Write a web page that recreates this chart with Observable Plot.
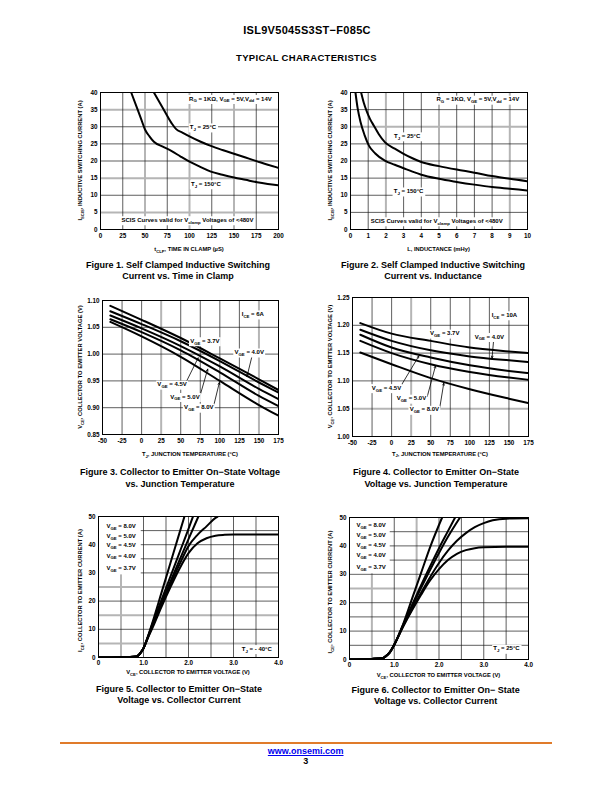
<!DOCTYPE html>
<html><head><meta charset="utf-8">
<script src="https://cdn.jsdelivr.net/npm/d3@7"></script>
<script src="https://cdn.jsdelivr.net/npm/@observablehq/plot@0.6"></script>
<style>
body{margin:0;background:#fff;}
#page{position:relative;width:612px;height:792px;overflow:hidden;background:#fff;font-family:"Liberation Sans",Arial,Helvetica,sans-serif;font-weight:bold;color:#000;}
.t{position:absolute;white-space:nowrap;transform:translateX(-50%);}
.chart{position:absolute;}
</style></head><body><div id="page"></div>
<script>
// ---------- DATA ----------
// Figure 1: I_SCIS vs time in clamp
const f1_t25_time = [60, 70, 80, 85, 92, 100, 112, 124, 137, 150, 163, 176, 188, 200];
const f1_t25_isc  = [40, 35.5, 31, 29.3, 28.3, 27.2, 25.7, 24.4, 23.2, 22.1, 21.0, 19.9, 18.9, 18.0];
const f1_t150_time = [34.5, 41, 46, 50, 55, 60, 70, 80, 90, 100, 112, 124, 137, 150, 163, 176, 188, 200];
const f1_t150_isc  = [40, 35.5, 32, 29.2, 27.2, 25.6, 24.2, 22.9, 21.3, 19.8, 18.3, 16.9, 16.0, 15.2, 14.5, 13.8, 13.3, 12.9];
// Figure 2: I_SCIS vs inductance
const f2_t25_L   = [0.6, 0.75, 0.94, 1.1, 1.32, 1.6, 1.94, 2.5, 3.0, 3.5, 4.0, 5.0, 6.0, 7.0, 8.0, 9.0, 10];
const f2_t25_isc = [40, 37, 34.2, 32.3, 30.3, 27.8, 25.5, 23.6, 22.1, 20.8, 19.7, 18.5, 17.5, 16.6, 15.6, 14.8, 14.1];
const f2_t150_L   = [0.28, 0.4, 0.57, 0.8, 1.04, 1.4, 1.94, 2.5, 3.0, 3.5, 4.0, 5.0, 6.0, 7.0, 8.0, 9.0, 10];
const f2_t150_isc = [40, 35.5, 31.3, 27.5, 24.5, 22.2, 20.1, 18.9, 17.9, 16.9, 16.0, 14.8, 13.9, 13.1, 12.4, 11.9, 11.4];
// Figure 3: VCE vs Tj at ICE = 6A
const f3_temp = [-40, 0, 50, 100, 150, 175];
const f3_vge37 = [1.090, 1.064, 1.030, 0.992, 0.953, 0.933];
const f3_vge40 = [1.080, 1.056, 1.024, 0.987, 0.947, 0.928];
const f3_vge45 = [1.072, 1.048, 1.015, 0.977, 0.935, 0.916];
const f3_vge50 = [1.065, 1.041, 1.007, 0.966, 0.922, 0.903];
const f3_vge80 = [1.060, 1.033, 0.995, 0.950, 0.905, 0.885];
// Figure 4: VCE vs Tj at ICE = 10A
const f4_temp = [-40, 0, 50, 100, 150, 175];
const f4_vge37 = [1.204, 1.185, 1.172, 1.160, 1.153, 1.150];
const f4_vge40 = [1.192, 1.172, 1.155, 1.144, 1.137, 1.134];
const f4_vge45 = [1.183, 1.160, 1.142, 1.128, 1.118, 1.114];
const f4_vge50 = [1.172, 1.150, 1.130, 1.116, 1.106, 1.102];
const f4_vge80 = [1.151, 1.130, 1.105, 1.085, 1.068, 1.060];
// Figure 5: ICE vs VCE at Tj = -40C
const f5_vge80_v = [0, 0.5, 0.85, 0.9, 0.95, 1.0, 1.1, 1.2, 1.4, 1.6, 1.8, 1.91];
const f5_vge80_i = [0, 0.1, 0.4, 1.0, 2.0, 3.3, 7.6, 12.5, 23, 33.6, 44.2, 50];
const f5_vge50_v = [0, 0.5, 0.85, 0.9, 0.95, 1.0, 1.1, 1.2, 1.4, 1.6, 1.8, 2.0, 2.1];
const f5_vge50_i = [0, 0.1, 0.4, 1.0, 2.0, 3.3, 7.4, 12, 20.4, 28.8, 37.2, 45.6, 50];
const f5_vge45_v = [0, 0.5, 0.85, 0.9, 0.95, 1.0, 1.1, 1.2, 1.4, 1.6, 1.8, 2.0, 2.22];
const f5_vge45_i = [0, 0.1, 0.4, 1.0, 2.0, 3.3, 7.3, 11.5, 19.5, 27, 34.5, 42, 50];
const f5_vge40_v = [0, 0.5, 0.85, 0.9, 0.95, 1.0, 1.1, 1.2, 1.4, 1.6, 1.8, 2.0, 2.2, 2.4, 2.6, 2.65];
const f5_vge40_i = [0, 0.1, 0.4, 1.0, 2.0, 3.3, 7.2, 11, 18.8, 26, 33, 39.5, 43.5, 46.5, 49.5, 50];
const f5_vge37_v = [0, 0.5, 0.85, 0.9, 0.95, 1.0, 1.1, 1.2, 1.4, 1.6, 1.8, 2.0, 2.2, 2.4, 2.6, 2.8, 3.0, 4.0];
const f5_vge37_i = [0, 0.1, 0.4, 1.0, 2.0, 3.3, 7.0, 10.5, 18, 25, 31.5, 37, 40.5, 42.3, 43.2, 43.5, 43.6, 43.6];
// Figure 6: ICE vs VCE at Tj = 25C
const f6_vge80_v = [0, 0.5, 0.75, 0.8, 0.9, 1.0, 1.2, 1.4, 1.6, 1.8, 2.07];
const f6_vge80_i = [0, 0.2, 0.5, 1.0, 2.5, 5.2, 12.5, 21.5, 30.5, 39.5, 50];
const f6_vge50_v = [0, 0.5, 0.75, 0.8, 0.9, 1.0, 1.2, 1.4, 1.6, 1.8, 2.0, 2.2, 2.36];
const f6_vge50_i = [0, 0.2, 0.5, 1.0, 2.5, 5.2, 12.3, 19.3, 26.2, 32.8, 39.2, 45.2, 50];
const f6_vge45_v = [0, 0.5, 0.75, 0.8, 0.9, 1.0, 1.2, 1.4, 1.6, 1.8, 2.0, 2.2, 2.47];
const f6_vge45_i = [0, 0.2, 0.5, 1.0, 2.5, 5.2, 12.1, 18.7, 25.2, 31.5, 37.5, 43.2, 50];
const f6_vge40_v = [0, 0.5, 0.75, 0.8, 0.9, 1.0, 1.2, 1.4, 1.6, 1.8, 2.0, 2.2, 2.4, 2.6, 2.8, 3.0, 3.2, 3.5, 4.0];
const f6_vge40_i = [0, 0.2, 0.5, 1.0, 2.5, 5.2, 11.8, 17.8, 23.5, 29, 34, 38.3, 41.8, 44.5, 46.6, 48, 49, 49.6, 49.7];
const f6_vge37_v = [0, 0.5, 0.75, 0.8, 0.9, 1.0, 1.2, 1.4, 1.6, 1.8, 2.0, 2.2, 2.4, 2.6, 2.8, 3.0, 3.5, 4.0];
const f6_vge37_i = [0, 0.2, 0.5, 1.0, 2.5, 5.2, 11.6, 17.4, 22.8, 27.8, 31.8, 35, 37.2, 38.5, 39.2, 39.5, 39.7, 39.7];

// Tick labels
const f12_yTicks = [0, 5, 10, 15, 20, 25, 30, 35, 40];
const f1_xTicks = [0, 25, 50, 75, 100, 125, 150, 175, 200];
const f2_xTicks = [0, 1, 2, 3, 4, 5, 6, 7, 8, 9, 10];
const f34_xTicks = [-50, -25, 0, 25, 50, 75, 100, 125, 150, 175];
const f3_yTicks = [0.85, 0.90, 0.95, 1.00, 1.05, 1.10];
const f4_yTicks = [1.00, 1.05, 1.10, 1.15, 1.20, 1.25];
const f56_xTicks = [0, 1, 2, 3, 4];
const f56_yTicks = [0, 10, 20, 30, 40, 50];
const vgeLabels = ["V_{GE} = 8.0V", "V_{GE} = 5.0V", "V_{GE} = 4.5V", "V_{GE} = 4.0V", "V_{GE} = 3.7V"];

// ---------- HELPERS ----------
const FONT = '"Liberation Sans", Arial, Helvetica, sans-serif';
const page = document.getElementById("page");

function series(list) {
  const out = [];
  for (const [name, xs, ys] of list) xs.forEach((x, i) => out.push({s: name, x, y: ys[i]}));
  return out;
}

function richText(svg, x, y, str, o = {}) {
  const size = o.size || 6;
  const g = d3.select(svg).append("g")
    .attr("transform", `translate(${x},${y})` + (o.rotate ? ` rotate(${o.rotate})` : ""));
  const t = g.append("text")
    .attr("text-anchor", o.anchor || "middle")
    .attr("font-size", size).attr("font-weight", "bold")
    .attr("font-family", FONT).attr("fill", "#000")
    .attr("dy", "0.35em");
  const parts = str.split(/_\{([^}]*)\}/);
  let sub = false;
  parts.forEach((p, i) => {
    const isSub = i % 2 === 1;
    if (!p) return;
    const ts = t.append("tspan").text(p);
    if (isSub) { ts.attr("font-size", size * 0.72).attr("dy", sub ? 0 : size * 0.3); sub = true; }
    else { if (sub) ts.attr("dy", -size * 0.3); sub = false; }
  });
  if (o.bg) {
    const bb = t.node().getBBox();
    const p = o.pad == null ? 1.2 : o.pad;
    g.insert("rect", "text").attr("x", bb.x - p).attr("y", bb.y - p * 0.5)
      .attr("width", bb.width + 2 * p).attr("height", bb.height + p).attr("fill", "#fff");
  }
  return g;
}

function chart(c) {
  const mL = 60, mR = 14, mT = 8, mB = 30;
  const fw = c.frame.r - c.frame.l, fh = c.frame.b - c.frame.t;
  const width = fw + mL + mR, height = fh + mT + mB;
  const gridGrey = {stroke: "#b5b5b5", strokeWidth: 2};
  const gridDark = {stroke: "#1a1a1a", strokeWidth: 0.7};
  const marks = [
    Plot.ruleX(c.greyX, gridGrey),
    Plot.ruleY(c.greyY, gridGrey),
    Plot.ruleX(c.darkX, gridDark),
    Plot.ruleY(c.darkY, gridDark),
    ...(c.pre || []),
    Plot.line(c.data, {x: "x", y: "y", z: "s", stroke: "#000", strokeWidth: 2, curve: "monotone-x", clip: true}),
    ...(c.post || []),
    Plot.frame({stroke: "#000", strokeWidth: 1}),
    Plot.axisX({ticks: c.xTicks, tickSize: 0, tickPadding: c.xPad || 4, tickFormat: c.xFmt, label: null, fill: "#000"}),
    Plot.axisY({ticks: c.yTicks, tickSize: 0, tickPadding: 3, tickFormat: c.yFmt, label: null, fill: "#000"})
  ];
  const svg = Plot.plot({
    width, height, marginLeft: mL, marginRight: mR, marginTop: mT, marginBottom: mB,
    style: {fontFamily: FONT, fontSize: "6.3px", fontWeight: "bold", color: "#000", background: "transparent", overflow: "visible"},
    x: {domain: c.xDomain, label: null},
    y: {domain: c.yDomain, label: null},
    marks
  });
  const div = document.createElement("div");
  div.className = "chart";
  div.style.left = (c.frame.l - mL) + "px";
  div.style.top = (c.frame.t - mT) + "px";
  div.appendChild(svg);
  page.appendChild(div);
  const sx = v => mL + (v - c.xDomain[0]) / (c.xDomain[1] - c.xDomain[0]) * fw;
  const sy = v => mT + fh - (v - c.yDomain[0]) / (c.yDomain[1] - c.yDomain[0]) * fh;
  for (const a of (c.notes || [])) {
    richText(svg, sx(a.x), sy(a.y), a.text, {anchor: a.anchor || "middle", bg: a.bg !== false, size: a.size || 6});
  }
  richText(svg, mL + fw / 2, mT + fh + c.xLabelDy, c.xLabel, {size: 5.8});
  richText(svg, mL - c.yLabelDx, mT + fh / 2 + (c.yLabelShift || 0), c.yLabel, {size: 5.8, rotate: -90});
  return svg;
}

function pageText(txt, cx, cy, size, extra = {}) {
  const d = document.createElement("div");
  d.className = "t";
  d.textContent = txt;
  d.style.left = cx + "px";
  d.style.top = (cy - size / 2) + "px";
  d.style.fontSize = size + "px";
  d.style.lineHeight = size + "px";
  Object.assign(d.style, extra);
  page.appendChild(d);
  return d;
}

const intFmt = d => String(d);
const dec2 = d => d.toFixed(2);
const v1 = d => d === 0 ? "0" : d.toFixed(1);

// ---------- PAGE TEXT ----------
pageText("ISL9V5045S3ST\u2212F085C", 307, 30.3, 11, {letterSpacing: "0.3px"});
pageText("TYPICAL CHARACTERISTICS", 306.5, 57.7, 9.5, {letterSpacing: "0.3px"});

// ---------- CHARTS ----------
chart({
  frame: {l: 100, r: 278, t: 92, b: 229},
  xDomain: [0, 200], yDomain: [0, 40], xTicks: f1_xTicks, yTicks: f12_yTicks, xFmt: intFmt, yFmt: intFmt,
  greyX: [50, 100, 150], darkX: [25, 75, 125, 175], greyY: [5, 15, 35], darkY: [10, 20, 25, 30],
  data: series([["25", f1_t25_time, f1_t25_isc], ["150", f1_t150_time, f1_t150_isc]]),
  notes: [
    {x: 193, y: 38.1, text: "R_{G} = 1K\u03A9, V_{GE} = 5V,V_{dd} = 14V", anchor: "end"},
    {x: 115.7, y: 29.8, text: "T_{J} = 25\u00B0C"},
    {x: 119, y: 13.2, text: "T_{J} = 150\u00B0C"},
    {x: 98.3, y: 2.7, text: "SCIS Curves valid for V_{clamp} Voltages of <480V"}
  ],
  xLabel: "t_{CLP}, TIME IN CLAMP (\u00B5S)", xLabelDy: 20,
  yLabel: "I_{SCIS}, INDUCTIVE SWITCHING CURRENT (A)", yLabelDx: 20
});

chart({
  frame: {l: 350, r: 527, t: 92, b: 229},
  xDomain: [0, 10], yDomain: [0, 40], xTicks: f2_xTicks, yTicks: f12_yTicks, xFmt: intFmt, yFmt: intFmt,
  greyX: [2, 5, 9], darkX: [1, 3, 4, 6, 7, 8], greyY: [30], darkY: [5, 10, 15, 20, 25, 35],
  data: series([["25", f2_t25_L, f2_t25_isc], ["150", f2_t150_L, f2_t150_isc]]),
  notes: [
    {x: 9.56, y: 37.9, text: "R_{G} = 1K\u03A9, V_{GE} = 5V,V_{dd} = 14V", anchor: "end"},
    {x: 3.23, y: 27.2, text: "T_{J} = 25\u00B0C"},
    {x: 3.31, y: 11.1, text: "T_{J} = 150\u00B0C"},
    {x: 4.9, y: 2.4, text: "SCIS Curves valid for V_{clamp} Voltages of <480V"}
  ],
  xLabel: "L, INDUCTANCE (mHy)", xLabelDy: 20,
  yLabel: "I_{SCIS}, INDUCTIVE SWITCHING CURRENT (A)", yLabelDx: 20
});

const arrowStyle = {x1: "x1", y1: "y1", x2: "x2", y2: "y2", stroke: "#000", strokeWidth: 0.8, headLength: 4, headAngle: 45};
const f3_arrows = [
  {x1: 141.1, y1: 0.996, x2: 134.7, y2: 0.958},
  {x1: 57, y1: 0.948, x2: 72.3, y2: 0.993},
  {x1: 75.2, y1: 0.925, x2: 84.5, y2: 0.972},
  {x1: 92.2, y1: 0.904, x2: 99.4, y2: 0.947}
];
chart({
  frame: {l: 102, r: 278, t: 300, b: 434},
  xDomain: [-50, 175], yDomain: [0.85, 1.10], xTicks: f34_xTicks, yTicks: f3_yTicks, xFmt: intFmt, yFmt: dec2,
  greyX: [25, 150], darkX: [-25, 0, 50, 75, 100, 125], greyY: [], darkY: [0.90, 0.95, 1.00, 1.05],
  data: series([["3.7", f3_temp, f3_vge37], ["4.0", f3_temp, f3_vge40], ["4.5", f3_temp, f3_vge45], ["5.0", f3_temp, f3_vge50], ["8.0", f3_temp, f3_vge80]]),
  post: [Plot.arrow(f3_arrows, arrowStyle)],
  notes: [
    {x: 142.8, y: 1.074, text: "I_{CE} = 6A"},
    {x: 81.5, y: 1.024, text: "V_{GE} = 3.7V"},
    {x: 138.2, y: 1.003, text: "V_{GE} = 4.0V"},
    {x: 39.6, y: 0.943, text: "V_{GE} = 4.5V"},
    {x: 56, y: 0.920, text: "V_{GE} = 5.0V"},
    {x: 73.8, y: 0.900, text: "V_{GE} = 8.0V"}
  ],
  xLabel: "T_{J}, JUNCTION TEMPERATURE (\u00B0C)", xLabelDy: 20,
  yLabel: "V_{CE}, COLLECTOR TO EMITTER VOLTAGE (V)", yLabelDx: 22
});

const f4_arrows = [
  {x1: 130.4, y1: 1.173, x2: 128.4, y2: 1.141},
  {x1: 11.5, y1: 1.090, x2: 34.9, y2: 1.145},
  {x1: 45.6, y1: 1.072, x2: 56.1, y2: 1.127},
  {x1: 61.6, y1: 1.052, x2: 66.7, y2: 1.096}
];
chart({
  frame: {l: 352, r: 528, t: 297, b: 436},
  xDomain: [-50, 175], yDomain: [1.00, 1.25], xTicks: f34_xTicks, yTicks: f4_yTicks, xFmt: intFmt, yFmt: dec2,
  greyX: [25], darkX: [-25, 0, 50, 75, 100, 125, 150], greyY: [1.05], darkY: [1.10, 1.15, 1.20],
  data: series([["3.7", f4_temp, f4_vge37], ["4.0", f4_temp, f4_vge40], ["4.5", f4_temp, f4_vge45], ["5.0", f4_temp, f4_vge50], ["8.0", f4_temp, f4_vge80]]),
  post: [Plot.arrow(f4_arrows, arrowStyle)],
  notes: [
    {x: 144.9, y: 1.218, text: "I_{CE} = 10A"},
    {x: 68.5, y: 1.185, text: "V_{GE} = 3.7V"},
    {x: 125.6, y: 1.179, text: "V_{GE} = 4.0V"},
    {x: -5.9, y: 1.087, text: "V_{GE} = 4.5V"},
    {x: 26, y: 1.068, text: "V_{GE} = 5.0V"},
    {x: 42.5, y: 1.048, text: "V_{GE} = 8.0V"}
  ],
  xLabel: "T_{J}, JUNCTION TEMPERATURE (\u00B0C)", xLabelDy: 17.6,
  yLabel: "V_{CE}, COLLECTOR TO EMITTER VOLTAGE (V)", yLabelDx: 22
});

const f5_legendY = [46.5, 43, 39.6, 36, 31.7];
chart({
  frame: {l: 98, r: 278, t: 516, b: 657},
  xDomain: [0, 4], yDomain: [0, 50], xTicks: f56_xTicks, yTicks: f56_yTicks, xFmt: v1, yFmt: intFmt, xPad: 3,
  greyX: [0.5], darkX: [1, 1.5, 2, 2.5, 3, 3.5], greyY: [5, 15, 25], darkY: [10, 20, 30, 35, 40, 45],
  pre: [Plot.rect([{x1: 0, x2: 0.95, y1: 29.3, y2: 50}], {x1: "x1", x2: "x2", y1: "y1", y2: "y2", fill: "#fff"})],
  data: series([["8.0", f5_vge80_v, f5_vge80_i], ["5.0", f5_vge50_v, f5_vge50_i], ["4.5", f5_vge45_v, f5_vge45_i], ["4.0", f5_vge40_v, f5_vge40_i], ["3.7", f5_vge37_v, f5_vge37_i]]),
  notes: [
    ...vgeLabels.map((t, i) => ({x: 0.187, y: f5_legendY[i], text: t, anchor: "start", bg: false})),
    {x: 3.53, y: 2.98, text: "T_{J} = - 40\u00B0C"}
  ],
  xLabel: "V_{CE}, COLLECTOR TO EMITTER VOLTAGE (V)", xLabelDy: 15,
  yLabel: "I_{CE}, COLLECTOR TO EMITTER CURRENT (A)", yLabelDx: 18, yLabelShift: 4
});

const f6_legendY = [47.1, 43.6, 40.1, 36.6, 32.3];
chart({
  frame: {l: 349, r: 528, t: 517, b: 659},
  xDomain: [0, 4], yDomain: [0, 50], xTicks: f56_xTicks, yTicks: f56_yTicks, xFmt: v1, yFmt: intFmt, xPad: 3,
  greyX: [0.5, 1.5], darkX: [1, 2, 2.5, 3, 3.5], greyY: [25], darkY: [5, 10, 15, 20, 30, 35, 40, 45],
  pre: [Plot.rect([{x1: 0, x2: 0.91, y1: 30.2, y2: 50}], {x1: "x1", x2: "x2", y1: "y1", y2: "y2", fill: "#fff"})],
  data: series([["8.0", f6_vge80_v, f6_vge80_i], ["5.0", f6_vge50_v, f6_vge50_i], ["4.5", f6_vge45_v, f6_vge45_i], ["4.0", f6_vge40_v, f6_vge40_i], ["3.7", f6_vge37_v, f6_vge37_i]]),
  notes: [
    ...vgeLabels.map((t, i) => ({x: 0.165, y: f6_legendY[i], text: t, anchor: "start", bg: false})),
    {x: 3.52, y: 3.76, text: "T_{J} = 25\u00B0C"}
  ],
  xLabel: "V_{CE}, COLLECTOR TO EMITTER VOLTAGE (V)", xLabelDy: 16,
  yLabel: "I_{CE}, COLLECTOR TO EMITTER CURRENT (A)", yLabelDx: 19, yLabelShift: 4
});

// ---------- CAPTIONS ----------
pageText("Figure 1. Self Clamped Inductive Switching", 178, 265, 9);
pageText("Current vs. Time in Clamp", 178, 276, 9);
pageText("Figure 2. Self Clamped Inductive Switching", 433, 265, 9);
pageText("Current vs. Inductance", 433, 276, 9);
pageText("Figure 3. Collector to Emitter On\u2212State Voltage", 180, 472.3, 9);
pageText("vs. Junction Temperature", 180, 484, 9);
pageText("Figure 4. Collector to Emitter On\u2212State", 436, 472.3, 9);
pageText("Voltage vs. Junction Temperature", 436, 484, 9);
pageText("Figure 5. Collector to Emitter On\u2212State", 179, 689, 9);
pageText("Voltage vs. Collector Current", 179, 700, 9);
pageText("Figure 6. Collector to Emitter On\u2212 State", 435.6, 690, 9);
pageText("Voltage vs. Collector Current", 435.6, 701, 9);

// ---------- FOOTER ----------
const rule = document.createElement("div");
Object.assign(rule.style, {position: "absolute", left: "60px", top: "742px", width: "492px", height: "2px", background: "#e07b2a"});
page.appendChild(rule);
pageText("www.onsemi.com", 305.7, 751.7, 9, {color: "#0000ee", textDecoration: "underline"});
pageText("3", 305.7, 761.7, 9);
</script></body></html>
